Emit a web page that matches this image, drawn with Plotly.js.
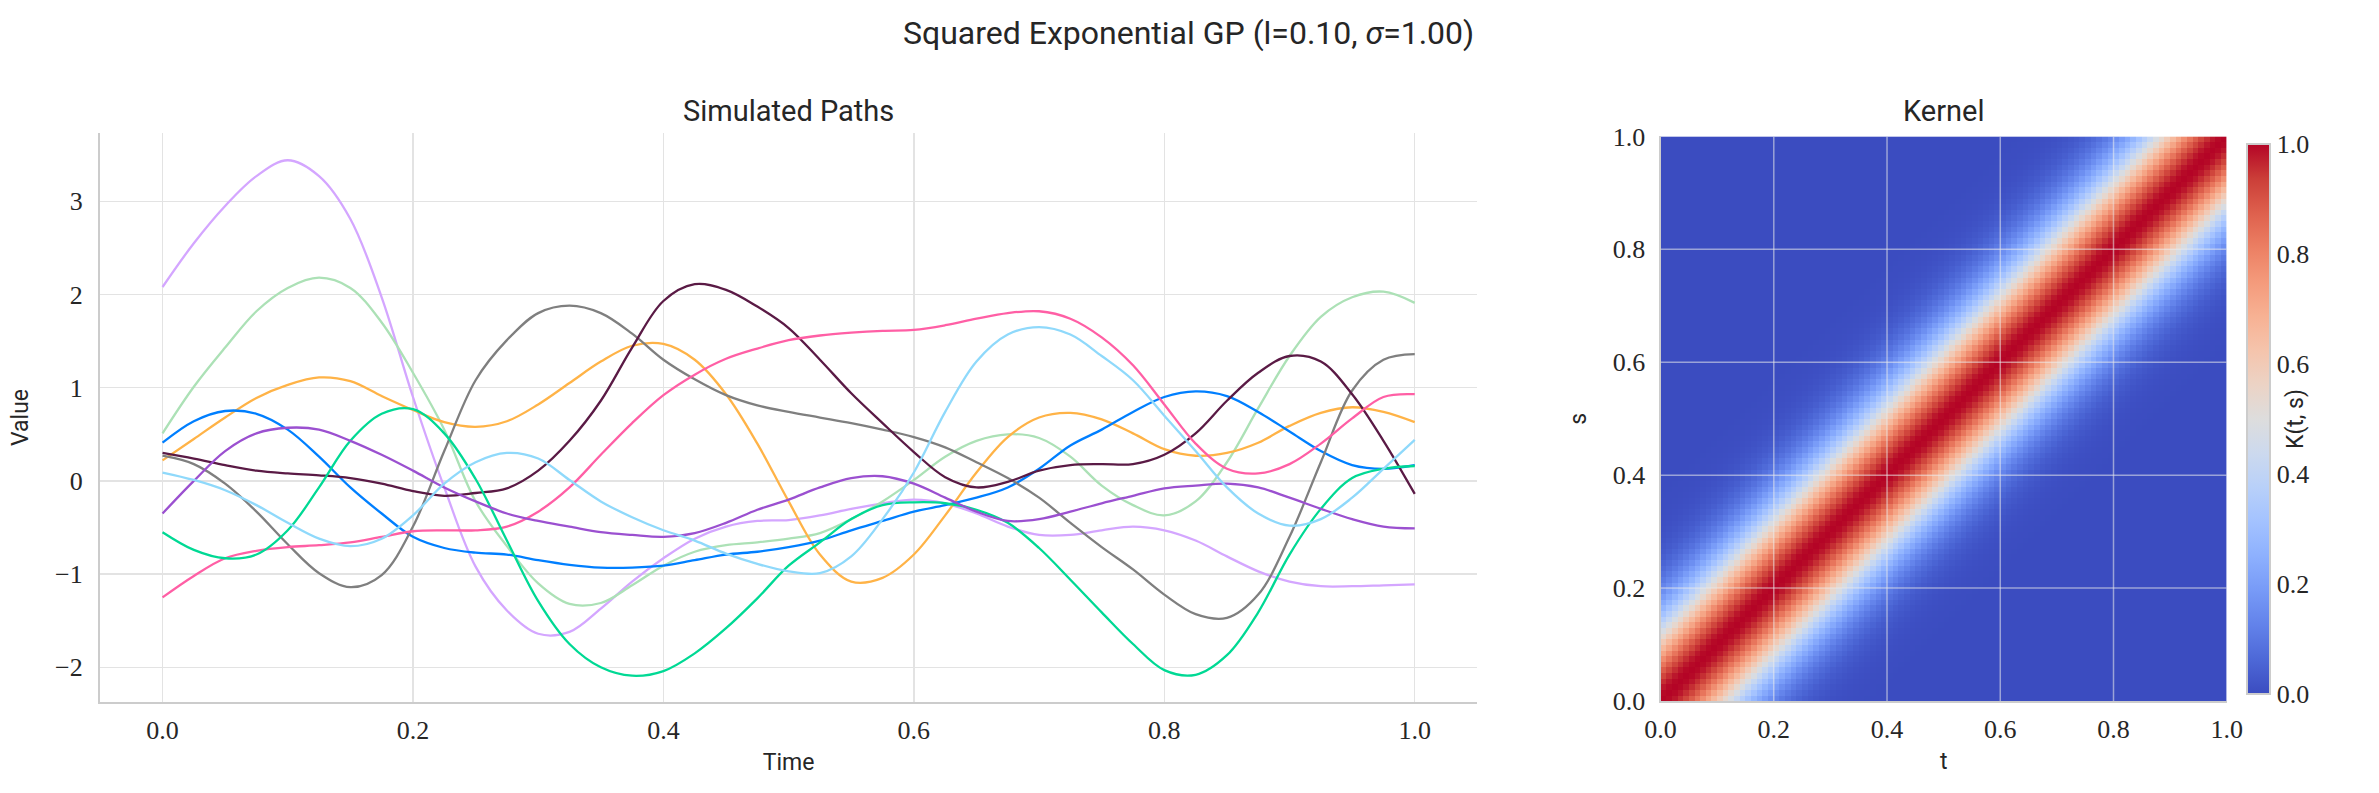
<!DOCTYPE html>
<html>
<head>
<meta charset="utf-8">
<script src="https://cdn.plot.ly/plotly-3.0.1.min.js"></script>
<style>html,body{margin:0;padding:0;background:#fff;}#chart{width:2379px;height:793px;}</style>
</head>
<body>
<div id="chart"></div>
<script>
// ---- data ----
const timeGrid = [0,0.025,0.05,0.075,0.1,0.125,0.15,0.175,0.2,0.225,0.25,0.275,0.3,0.325,0.35,0.375,0.4,0.425,0.45,0.475,0.5,0.525,0.55,0.575,0.6,0.625,0.65,0.675,0.7,0.725,0.75,0.775,0.8,0.825,0.85,0.875,0.9,0.925,0.95,0.975,1.0];

const pathLilac = [2.08,2.55,2.95,3.27,3.44,3.27,2.81,1.97,0.9,-0.07,-0.92,-1.39,-1.64,-1.62,-1.37,-1.08,-0.83,-0.62,-0.49,-0.43,-0.42,-0.37,-0.30,-0.24,-0.20,-0.24,-0.35,-0.49,-0.58,-0.58,-0.53,-0.49,-0.53,-0.64,-0.81,-0.97,-1.08,-1.13,-1.13,-1.12,-1.11];
const pathMint = [0.51,1.01,1.43,1.82,2.07,2.18,2.07,1.70,1.16,0.55,-0.22,-0.70,-1.10,-1.32,-1.31,-1.12,-0.91,-0.76,-0.69,-0.66,-0.62,-0.56,-0.41,-0.22,0.01,0.26,0.43,0.50,0.46,0.26,-0.05,-0.26,-0.37,-0.22,0.20,0.78,1.34,1.76,1.97,2.03,1.91];
const pathOrange = [0.22,0.45,0.68,0.89,1.03,1.11,1.07,0.91,0.76,0.63,0.58,0.64,0.82,1.05,1.28,1.45,1.47,1.30,0.93,0.40,-0.22,-0.79,-1.08,-1.04,-0.79,-0.37,0.09,0.47,0.68,0.73,0.66,0.51,0.34,0.27,0.30,0.41,0.59,0.73,0.79,0.74,0.63];
const pathBlue = [0.41,0.64,0.75,0.72,0.55,0.26,-0.07,-0.35,-0.60,-0.72,-0.77,-0.79,-0.85,-0.90,-0.93,-0.93,-0.91,-0.85,-0.79,-0.76,-0.71,-0.64,-0.53,-0.43,-0.33,-0.26,-0.18,-0.07,0.13,0.38,0.55,0.74,0.90,0.96,0.91,0.74,0.53,0.32,0.17,0.13,0.17];
const pathGray = [0.27,0.18,-0.03,-0.33,-0.68,-0.99,-1.14,-1.01,-0.49,0.32,1.08,1.51,1.80,1.88,1.80,1.58,1.30,1.09,0.92,0.81,0.74,0.68,0.62,0.55,0.47,0.36,0.20,0.03,-0.18,-0.45,-0.71,-0.95,-1.22,-1.43,-1.47,-1.22,-0.60,0.20,0.97,1.30,1.36];
const pathMaroon = [0.30,0.24,0.17,0.11,0.08,0.06,0.03,-0.03,-0.11,-0.16,-0.13,-0.08,0.11,0.43,0.86,1.43,1.93,2.11,2.05,1.87,1.64,1.30,0.94,0.62,0.31,0.04,-0.07,-0.01,0.11,0.17,0.18,0.18,0.28,0.51,0.86,1.16,1.34,1.28,0.93,0.43,-0.14];
const pathPink = [-1.25,-1.02,-0.83,-0.75,-0.71,-0.69,-0.66,-0.60,-0.54,-0.53,-0.53,-0.49,-0.33,-0.07,0.28,0.62,0.92,1.14,1.31,1.42,1.51,1.56,1.59,1.61,1.62,1.67,1.74,1.80,1.82,1.74,1.54,1.24,0.82,0.40,0.13,0.08,0.18,0.40,0.67,0.90,0.93];
const pathTeal = [-0.55,-0.74,-0.83,-0.79,-0.53,-0.07,0.43,0.72,0.77,0.51,0.02,-0.64,-1.29,-1.75,-2.00,-2.09,-2.04,-1.85,-1.58,-1.26,-0.91,-0.66,-0.41,-0.26,-0.23,-0.24,-0.31,-0.45,-0.72,-1.06,-1.41,-1.75,-2.03,-2.08,-1.87,-1.41,-0.79,-0.30,0.03,0.13,0.16];
const pathPurple = [-0.35,0.0,0.32,0.51,0.57,0.55,0.43,0.28,0.11,-0.07,-0.22,-0.35,-0.43,-0.49,-0.55,-0.58,-0.60,-0.56,-0.45,-0.31,-0.20,-0.07,0.03,0.05,-0.03,-0.18,-0.33,-0.43,-0.41,-0.33,-0.24,-0.16,-0.08,-0.05,-0.03,-0.07,-0.18,-0.30,-0.41,-0.49,-0.51];
const pathSky = [0.09,0.01,-0.10,-0.26,-0.45,-0.62,-0.70,-0.62,-0.37,-0.03,0.20,0.30,0.24,0.01,-0.22,-0.39,-0.53,-0.64,-0.78,-0.89,-0.97,-0.99,-0.81,-0.41,0.09,0.74,1.28,1.57,1.65,1.57,1.34,1.08,0.70,0.32,-0.07,-0.35,-0.48,-0.41,-0.18,0.13,0.44];

const pathColors = ['#d4a6ff','#ace1b6','#ffb347','#007fff','#7f7f7f','#5a1a45','#ff5fa5','#00d994','#9b50d0','#8fd9fb'];

// Kernel value read along the diagonal distance (in grid cells of the 100x100 image)
const kernelGridSize = 100;
const kernelByLag = [1.0,0.995,0.980,0.955,0.922,0.880,0.832,0.779,0.721,0.662,0.600,0.539,0.480,0.422,0.368,0.317,0.271,0.229,0.192,0.159,0.130,0.105,0.085,0.067,0.053,0.041,0.032,0.024,0.018,0.014,0.010,0.0075,0.0054,0.0039,0.0027,0.0019,0.0013,0.0009,0.0006,0.0004,0.0];

const xTicksLeft = [0,0.2,0.4,0.6,0.8,1.0];
const yTicksLeft = [-2,-1,0,1,2,3];
const kernelTicks = [0,0.2,0.4,0.6,0.8,1.0];

// coolwarm colormap stops
const coolwarm = [
 [0.0,'rgb(59,76,192)'],[0.0625,'rgb(77,104,215)'],[0.125,'rgb(98,130,234)'],[0.1875,'rgb(119,154,247)'],
 [0.25,'rgb(141,176,254)'],[0.3125,'rgb(163,194,255)'],[0.375,'rgb(184,208,249)'],[0.4375,'rgb(204,217,238)'],
 [0.5,'rgb(221,221,221)'],[0.5625,'rgb(236,211,197)'],[0.625,'rgb(245,196,172)'],[0.6875,'rgb(247,177,147)'],
 [0.75,'rgb(244,154,123)'],[0.8125,'rgb(236,127,99)'],[0.875,'rgb(222,96,77)'],[0.9375,'rgb(203,62,56)'],[1.0,'rgb(180,4,38)']
];

// ---- build traces ----
const paths = [pathLilac,pathMint,pathOrange,pathBlue,pathGray,pathMaroon,pathPink,pathTeal,pathPurple,pathSky];
const traces = paths.map((p,i)=>({
  type:'scatter', mode:'lines', x:timeGrid, y:p, xaxis:'x', yaxis:'y',
  line:{color:pathColors[i], width:2.3, shape:'spline', smoothing:1.0},
  hoverinfo:'skip', showlegend:false
}));

const zK = [];
for (let r=0;r<kernelGridSize;r++){
  const row=[];
  for (let c=0;c<kernelGridSize;c++){
    const lag=Math.abs(r-c);
    row.push(lag<kernelByLag.length?kernelByLag[lag]:0);
  }
  zK.push(row);
}

const tickFont = {family:'Liberation Serif, DejaVu Serif, serif', size:26, color:'#262626'};
const labelFont = {family:'Roboto, sans-serif', size:23, color:'#262626'};

traces.push({
  type:'heatmap', z:zK, x0:0.005, dx:1/kernelGridSize, y0:0.005, dy:1/kernelGridSize,
  xaxis:'x2', yaxis:'y2', colorscale:coolwarm, zmin:0, zmax:1, zsmooth:false,
  hoverinfo:'skip',
  colorbar:{x:2247/2379, xanchor:'left', xpad:0, ypad:0, y:1-(144+694)/2/793, yanchor:'middle', len:550/793, lenmode:'fraction',
    thickness:23, outlinecolor:'#cccccc', outlinewidth:2, tickvals:kernelTicks, ticktext:kernelTicks.map(v=>v.toFixed(1)),
    ticks:'', ticklabelpad:8,
    tickfont:tickFont,
    title:{text:'K(t, s)', side:'right', font:labelFont}}
});

const gridShapes = [];
kernelTicks.forEach(v=>{
  if (v>0 && v<1){
    gridShapes.push({type:'line', xref:'x2', yref:'y2', x0:v, x1:v, y0:0, y1:1, layer:'above', line:{color:'rgba(235,235,235,0.55)', width:1.5}});
    gridShapes.push({type:'line', xref:'x2', yref:'y2', x0:0, x1:1, y0:v, y1:v, layer:'above', line:{color:'rgba(235,235,235,0.55)', width:1.5}});
  }
});

const layout = {
  width:2379, height:793, margin:{l:0,r:0,t:0,b:0}, paper_bgcolor:'#ffffff', plot_bgcolor:'#ffffff',
  showlegend:false,
  xaxis:{domain:[0.042,0.621], range:[-0.05,1.05], tickvals:xTicksLeft, ticktext:xTicksLeft.map(v=>v.toFixed(1)),
    showgrid:true, gridcolor:'#e3e3e3', gridwidth:1.5, zeroline:false, showline:true, linecolor:'#cccccc', linewidth:2,
    ticks:'', tickfont:tickFont, ticklabelstandoff:4,
    title:{text:'Time', font:labelFont, standoff:10}, anchor:'y'},
  yaxis:{domain:[0.115,0.832], range:[-2.37,3.73], tickvals:yTicksLeft,
    showgrid:true, gridcolor:'#e3e3e3', gridwidth:1.5, zeroline:false, showline:true, linecolor:'#cccccc', linewidth:2,
    ticks:'', tickfont:tickFont, ticklabelstandoff:10,
    title:{text:'Value', font:labelFont, standoff:20}, anchor:'x'},
  xaxis2:{domain:[0.698,0.936], range:[0,1], tickvals:kernelTicks, ticktext:kernelTicks.map(v=>v.toFixed(1)),
    showgrid:false, zeroline:false, showline:true, linecolor:'#cccccc', linewidth:2, ticks:'', tickfont:tickFont,
    ticklabelstandoff:4, title:{text:'t', font:labelFont, standoff:10}, anchor:'y2'},
  yaxis2:{domain:[0.116,0.828], range:[0,1], tickvals:kernelTicks, ticktext:kernelTicks.map(v=>v.toFixed(1)),
    showgrid:false, zeroline:false, showline:true, linecolor:'#cccccc', linewidth:2, ticks:'', tickfont:tickFont,
    ticklabelstandoff:8, title:{text:'s', font:labelFont, standoff:20}, anchor:'x2'},
  shapes:gridShapes,
  annotations:[
    {text:'Squared Exponential GP (l=0.10, <i>σ</i>=1.00)', xref:'paper', yref:'paper', x:0.4995, y:1-33/793,
     xanchor:'center', yanchor:'middle', showarrow:false, font:{family:'Roboto, sans-serif', size:32, color:'#262626'}},
    {text:'Simulated Paths', xref:'paper', yref:'paper', x:0.3315, y:1-111/793,
     xanchor:'center', yanchor:'middle', showarrow:false, font:{family:'Roboto, sans-serif', size:29, color:'#262626'}},
    {text:'Kernel', xref:'paper', yref:'paper', x:0.817, y:1-111/793,
     xanchor:'center', yanchor:'middle', showarrow:false, font:{family:'Roboto, sans-serif', size:29, color:'#262626'}}
  ]
};

Plotly.newPlot('chart', traces, layout, {staticPlot:true, displayModeBar:false});
</script>
</body>
</html>
